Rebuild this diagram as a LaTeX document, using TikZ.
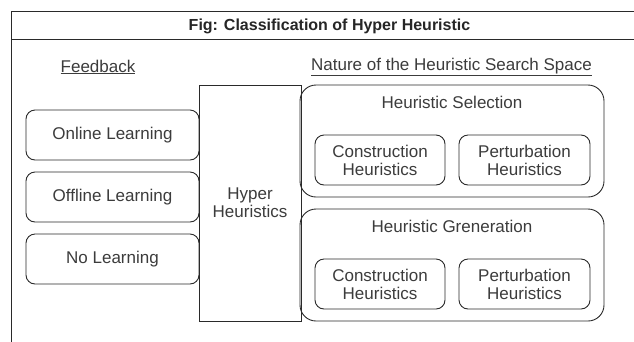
\documentclass[tikz,border=0pt]{standalone}
\usepackage{fontspec}
\setmainfont{Liberation Sans}
\definecolor{txt}{HTML}{3C3C3C}
\definecolor{ln}{HTML}{2A2A2A}
\tikzset{
  x=1pt, y=-1pt,
  every node/.style={text=txt, font=\fontsize{17}{18}\selectfont},
  rbox/.style={draw=ln, line width=0.9pt, rounded corners=9pt, inner sep=0pt},
  bigbox/.style={draw=ln, line width=0.9pt, rounded corners=16pt, inner sep=0pt},
  plainbox/.style={draw=ln, line width=0.9pt, inner sep=0pt},
  lbl/.style={align=center, inner sep=0pt},
  hd/.style={inner sep=0pt}
}
\begin{document}
\begin{tikzpicture}
\useasboundingbox (0,0) rectangle (634,341);
\fill[white] (0,0) rectangle (634,341);
% frame
\draw[ln, line width=0.9pt] (11.5,345) -- (11.5,11) -- (640,11);
\draw[ln, line width=0.9pt] (11.5,39) -- (640,39);
\node[hd, text=black!85, font=\bfseries\fontsize{16}{18}\selectfont] (title) at (329.5,26) {Fig: Classification of Hyper Heuristic};
% headings
\node[hd] (fb) at (98,67) {\underline{Feedback}};
\node[hd] (nat) at (451.5,67) {\underline{Nature of the Heuristic Search Space}};
% feedback boxes
\draw[rbox] (26,110) rectangle (199,160);
\node[lbl] (online) at (112.5,135) {Online Learning};
\draw[rbox] (26,172) rectangle (199,222);
\node[lbl] (offline) at (112.5,197) {Offline Learning};
\draw[rbox] (26,234) rectangle (199,284);
\node[lbl] (nol) at (112.5,259) {No Learning};
% hyper heuristics
\draw[plainbox] (199,85) rectangle (301,321);
\node[lbl] (hh) at (250,203) {Hyper\\Heuristics};
% selection
\draw[bigbox] (300,85) rectangle (604,197);
\node[lbl] (sel) at (452,102) {Heuristic Selection};
\draw[rbox] (315,135) rectangle (445,185);
\node[lbl] (c1) at (380,160) {Construction\\Heuristics};
\draw[rbox] (459,135) rectangle (590,185);
\node[lbl] (p1) at (524.5,160) {Perturbation\\Heuristics};
% generation
\draw[bigbox] (300,209) rectangle (604,321);
\node[lbl] (gen) at (452,226) {Heuristic Greneration};
\draw[rbox] (315,259) rectangle (445,309);
\node[lbl] (c2) at (380,284) {Construction\\Heuristics};
\draw[rbox] (459,259) rectangle (590,309);
\node[lbl] (p2) at (524.5,284) {Perturbation\\Heuristics};
\end{tikzpicture}
\end{document}
